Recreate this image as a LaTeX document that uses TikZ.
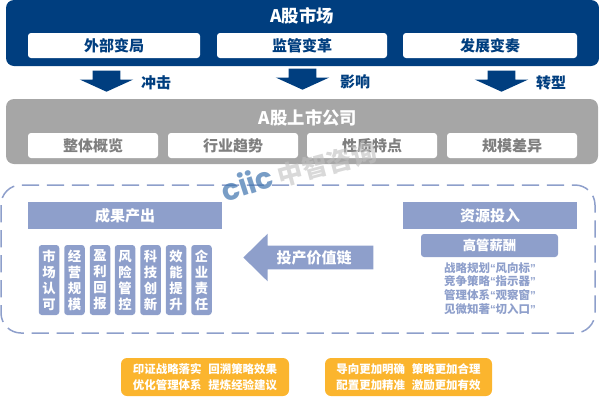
\documentclass[tikz,border=0pt]{standalone}
\usepackage{fontspec}
\setmainfont{Noto Sans CJK SC}
\newfontfamily\logofont{Poppins}
\newfontfamily\virgfont{Liberation Sans}
\usepackage{xcolor}
\usetikzlibrary{positioning, shapes.arrows}
\definecolor{blu}{HTML}{003E7F}
\definecolor{grigio}{HTML}{A6A6A6}
\definecolor{grigiotxt}{HTML}{7F7F7F}
\definecolor{azzurro}{HTML}{8E9FCB}
\definecolor{giallo}{HTML}{FBB52E}
\definecolor{marchioblu}{HTML}{3F74AE}
\newcommand{\px}{0.75pt}
\newcommand{\grande}{\fontsize{13}{15}\bfseries\selectfont}
\newcommand{\medio}{\fontsize{11.25}{13}\bfseries\selectfont}
\newcommand{\piccolo}{\fontsize{10}{12}\bfseries\selectfont}
\newcommand{\apri}{{\virgfont “}}
\newcommand{\chiudi}{{\virgfont ”}}
\tikzset{
	% fascia grande
	fascia/.style={rectangle, rounded corners=8*\px, inner sep=0pt, minimum height=65*\px},
	% casella bianca dentro la fascia
	casella/.style={rectangle, fill=white, rounded corners=3*\px, inner sep=0pt,
	                minimum height=25*\px, font=\medio},
	% freccia verso il basso
	giu/.style={single arrow, fill=blu, inner xsep=0pt, inner ysep=13.5*\px, rotate=-90, anchor=tip,
	            minimum height=21*\px, minimum width=53*\px,
	            single arrow head extend=13*\px, single arrow tip angle=131},
	% testo accanto alla freccia
	freccialab/.style={text=blu, font=\medio, inner sep=0pt},
	% intestazione azzurra
	testata/.style={rectangle, fill=azzurro, text=white, inner sep=0pt,
	                minimum height=27*\px, font=\medio},
	% colonna verticale di quattro caratteri
	colonna/.style={rectangle, fill=azzurro, text=white, rounded corners=3*\px, inner sep=0pt,
	                minimum width=20.5*\px, minimum height=70*\px, align=center, font=\piccolo},
	% riquadro arancione in basso
	nota/.style={rectangle, fill=giallo, text=white, rounded corners=6*\px, inner sep=0pt,
	             minimum height=38*\px, align=center,
	             font=\fontsize{8.6}{12}\bfseries\selectfont},
}

\begin{document}
\begin{tikzpicture}[x=\px, y=-\px]
    \useasboundingbox (0,0) rectangle (599,400);

    % ---------------- mercato ----------------
    \node[fascia, fill=blu, minimum width=593*\px, minimum height=66*\px] (mercato) at (302.5,33) {};
    \node[text=white, font=\grande, inner sep=0pt] (mercatolab) at (302,16) {A股市场};
    \node[casella, text=blu, minimum width=172*\px] (esterno) at (114,45.5) {外部变局};
    \node[casella, text=blu, minimum width=170*\px] (vigilanza) at (302,45.5) {监管变革};
    \node[casella, text=blu, minimum width=174*\px] (sviluppo) at (490,45.5) {发展变奏};

    % ---------------- frecce ----------------
    \node[giu] (giu1) at (106.5,92) {};
    \node[freccialab] (urto) at (156,83) {冲击};
    \node[giu] (giu2) at (302.5,90) {};
    \node[freccialab] (effetto) at (355,82) {影响};
    \node[giu] (giu3) at (501.5,92) {};
    \node[freccialab] (svolta) at (551,83) {转型};

    % ---------------- societa ----------------
    \node[fascia, fill=grigio, minimum width=592*\px] (societa) at (302,131.5) {};
    \node[text=white, font=\grande, inner sep=0pt] (societalab) at (308,118) {A股上市公司};
    \node[casella, text=grigiotxt, minimum width=130*\px] (quadro) at (93,145.5) {整体概览};
    \node[casella, text=grigiotxt, minimum width=130*\px] (settore) at (233,145.5) {行业趋势};
    \node[casella, text=grigiotxt, minimum width=130*\px] (natura) at (372,145.5) {性质特点};
    \node[casella, text=grigiotxt, minimum width=130*\px] (scala) at (512,145.5) {规模差异};

    % ---------------- catena del valore ----------------
    \draw[azzurro, line width=1.5*\px, dash pattern={on 13pt off 5.75pt}, rounded corners=20*\px]
        (1,185) rectangle (595,333);
    \node[testata, minimum width=194*\px] (risultati) at (125,215.5) {成果产出};
    \node[testata, minimum width=174*\px] (risorse) at (490,215.5) {资源投入};
    \node[colonna] (c1) at (49,280) {市\\场\\认\\可};
    \node[colonna] (c2) at (74.5,280) {经\\营\\规\\模};
    \node[colonna] (c3) at (100,280) {盈\\利\\回\\报};
    \node[colonna] (c4) at (125,280) {风\\险\\管\\控};
    \node[colonna] (c5) at (150.5,280) {科\\技\\创\\新};
    \node[colonna] (c6) at (176,280) {效\\能\\提\\升};
    \node[colonna] (c7) at (201.5,280) {企\\业\\责\\任};
    \node[single arrow, fill=azzurro, inner xsep=0pt, inner ysep=11.5*\px, rotate=180, anchor=tip,
          minimum height=130*\px, minimum width=47*\px,
          single arrow head extend=12*\px, single arrow tip angle=89] (catena) at (243,257.5) {};
    \node[text=white, font=\medio, inner sep=0pt] (catenalab) at (314,258) {投产价值链};
    \node[rectangle, fill=azzurro, text=white, rounded corners=3*\px, inner sep=0pt,
          minimum width=137*\px, minimum height=23*\px, font=\piccolo] (compensi) at (489.5,245.5) {高管薪酬};
    \node[text=azzurro, inner sep=0pt, align=center, font=\fontsize{8.6}{10.3}\bfseries\selectfont] (elenco) at (490,288.5)
        {战略规划\apri 风向标\chiudi\\竞争策略\apri 指示器\chiudi\\管理体系\apri 观察窗\chiudi\\见微知著\apri 切入口\chiudi};

    % ---------------- note ----------------
    \node[nota, minimum width=168*\px] (nota1) at (205,377)
        {印证战略落实\hspace{5pt}回溯策略效果\\优化管理体系\hspace{5pt}提炼经验建议};
    \node[nota, minimum width=167*\px] (nota2) at (408.5,377)
        {导向更加明确\hspace{5pt}策略更加合理\\配置更加精准\hspace{5pt}激励更加有效};

    % ---------------- marchio ----------------
    \node[rotate=18, text=marchioblu, opacity=0.7, inner sep=0pt,
          font=\logofont\fontsize{22}{22}\bfseries\selectfont] (marchio) at (247,183) {ciic};
    \node[rotate=15, text=black!25, opacity=0.6, inner sep=0pt,
          font=\fontsize{19}{20}\bfseries\selectfont] (marchiolab) at (327,164) {中智咨询};
\end{tikzpicture}
\end{document}
